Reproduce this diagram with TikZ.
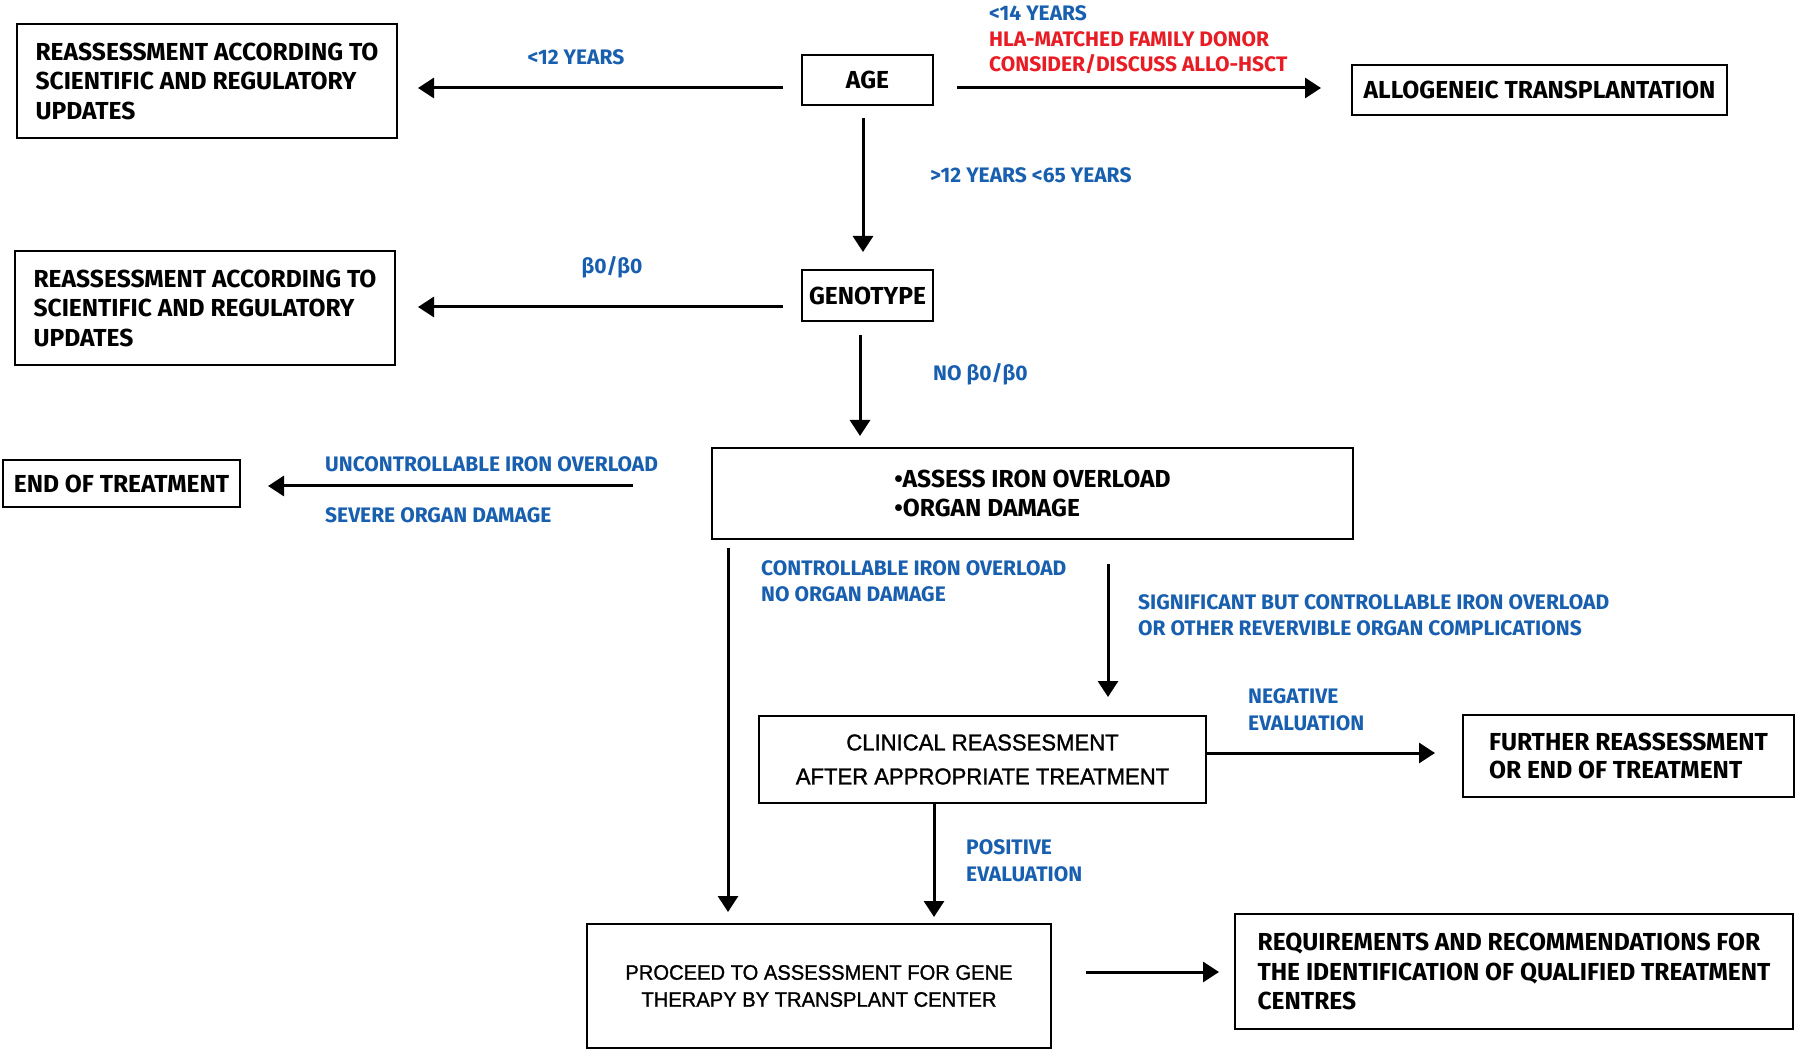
\documentclass[tikz,border=0pt]{standalone}
\usepackage{fontspec}
\usetikzlibrary{arrows.meta,calc}
\newfontfamily\dinfont{Fira Sans}
\newfontfamily\arialfont{Liberation Sans}[FakeStretch=0.96, FakeBold=1.2]
\definecolor{lblue}{RGB}{25,95,175}
\definecolor{lred}{RGB}{232,28,36}
\begin{document}
\begin{tikzpicture}[x=1pt,y=-1pt,
 box/.style={draw, line width=2pt, inner sep=0pt, align=left, font=\dinfont\bfseries\fontsize{24.6}{29.5}\selectfont},
 cbox/.style={box, align=center},
 abox/.style={draw, line width=2pt, inner sep=0pt, align=center, font=\arialfont\fontsize{23}{34}\selectfont},
 lbl/.style={text=lblue, inner sep=0pt, align=left, font=\dinfont\bfseries\fontsize{21}{26}\selectfont},
 rlbl/.style={lbl, text=lred},
 arr/.style={line width=3pt, -{Triangle[length=16pt,width=20pt]}},
]
\fill[white] (0,0) rectangle (1800,1056);
\useasboundingbox (0,0) rectangle (1800,1056);

% boxes
\node[box, minimum width=380, minimum height=114] (re1) at (207,81) {REASSESSMENT ACCORDING TO\\SCIENTIFIC AND REGULATORY\\UPDATES};
\node[cbox, minimum width=131, minimum height=50] (age) at (867.5,80) {AGE};
\node[cbox, minimum width=375, minimum height=50] (allo) at (1539.5,90) {ALLOGENEIC TRANSPLANTATION};
\node[box, minimum width=380, minimum height=114] (re2) at (205,308) {REASSESSMENT ACCORDING TO\\SCIENTIFIC AND REGULATORY\\UPDATES};
\node[cbox, minimum width=131, minimum height=51] (gen) at (867.5,295.5) {GENOTYPE};
\node[box, minimum width=641, minimum height=91] (assess) at (1032.5,493.5) {•ASSESS IRON OVERLOAD\\•ORGAN DAMAGE};
\node[cbox, minimum width=237, minimum height=47] (end) at (121.5,483.5) {END OF TREATMENT};
\node[abox, minimum width=447, minimum height=87] (clin) at (982.5,759.5) {CLINICAL REASSESMENT\\AFTER APPROPRIATE TREATMENT};
\node[box, minimum width=331, minimum height=82, font=\dinfont\bfseries\fontsize{24.6}{28}\selectfont] (further) at (1628.5,756) {FURTHER REASSESSMENT\\OR END OF TREATMENT};
\node[abox, minimum width=464, minimum height=124, font=\arialfont\fontsize{21}{27}\selectfont] (proceed) at (819,986) {PROCEED TO ASSESSMENT FOR GENE\\THERAPY BY TRANSPLANT CENTER};
\node[box, minimum width=558, minimum height=115] (req) at (1514,971.5) {REQUIREMENTS AND RECOMMENDATIONS FOR\\THE IDENTIFICATION OF QUALIFIED TREATMENT\\CENTRES};

% helper coordinates for connector lines
\coordinate (yA) at (0,88);
\coordinate (xA) at (863,0);
\coordinate (yG) at (0,307);
\coordinate (xG) at (860,0);
\coordinate (yE) at (0,486);
\coordinate (xP) at (728,0);
\coordinate (xC) at (1108,0);
\coordinate (yF) at (0,753);
\coordinate (xQ) at (934,0);
\coordinate (yR) at (0,972);

% connectors
\draw[arr, shorten <=18pt, shorten >=20pt] (age.west |- yA) -- (re1.east |- yA);
\draw[arr, shorten <=23pt, shorten >=30pt] (age.east |- yA) -- (allo.west |- yA);
\draw[arr, shorten <=12pt, shorten >=17pt] (xA |- age.south) -- (xA |- gen.north);
\draw[arr, shorten <=18pt, shorten >=22pt] (gen.west |- yG) -- (re2.east |- yG);
\draw[arr, shorten <=13pt, shorten >=11pt] (xG |- gen.south) -- (xG |- assess.north);
\draw[arr, shorten <=78pt, shorten >=27pt] (assess.west |- yE) -- (end.east |- yE);
\draw[arr, shorten <=8pt, shorten >=11pt] (xP |- assess.south) -- (xP |- proceed.north);
\draw[arr, shorten <=24pt, shorten >=18pt] (xC |- assess.south) -- (xC |- clin.north);
\draw[arr, shorten >=27pt] (clin.east |- yF) -- (further.west |- yF);
\draw[arr, shorten >=6pt] (xQ |- clin.south) -- (xQ |- proceed.north);
\draw[arr, shorten <=34pt, shorten >=15pt] (proceed.east |- yR) -- (req.west |- yR);

% labels
\node[lbl] (l12) at (576,57) {<12 YEARS};
\node[lbl, anchor=west] (l14) at (989,13) {<14 YEARS};
\node[rlbl, anchor=west] (lhla) at (989,39) {HLA-MATCHED FAMILY DONOR};
\node[rlbl, anchor=west] (lcons) at (989,64) {CONSIDER/DISCUSS ALLO-HSCT};
\node[lbl, anchor=west] (l1265) at (930,175) {>12 YEARS <65 YEARS};
\node[lbl] (lb0) at (612,267) {β0/β0};
\node[lbl, anchor=west] (lnob0) at (933,374) {NO β0/β0};
\node[lbl, anchor=west] (lunc) at (325,464) {UNCONTROLLABLE IRON OVERLOAD};
\node[lbl, anchor=west] (lsev) at (325,515) {SEVERE ORGAN DAMAGE};
\node[lbl, anchor=west] (lctrl) at (761,581.5) {CONTROLLABLE IRON OVERLOAD\\NO ORGAN DAMAGE};
\node[lbl, anchor=west] (lsig) at (1138,615.5) {SIGNIFICANT BUT CONTROLLABLE IRON OVERLOAD\\OR OTHER REVERVIBLE ORGAN COMPLICATIONS};
\node[lbl, anchor=west, font=\dinfont\bfseries\fontsize{21}{27}\selectfont] (lneg) at (1248,709.5) {NEGATIVE\\EVALUATION};
\node[lbl, anchor=west, font=\dinfont\bfseries\fontsize{21}{27}\selectfont] (lpos) at (966,860.5) {POSITIVE\\EVALUATION};
\end{tikzpicture}
\end{document}
